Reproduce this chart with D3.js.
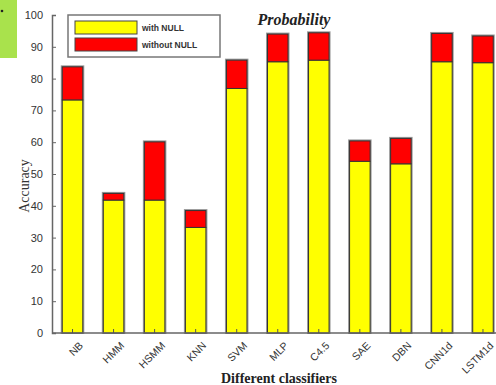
<!DOCTYPE html>
<html>
<head>
<meta charset="utf-8">
<script src="https://cdn.jsdelivr.net/npm/d3@7"></script>
<style>
  body { margin: 0; background: #fff; }
  svg { display: block; }
</style>
</head>
<body>
<svg id="chart" width="496" height="385"></svg>
<script>
"use strict";

// classifiers on the x axis
var classifiers = ["NB", "HMM", "HSMM", "KNN", "SVM", "MLP", "C4.5", "SAE", "DBN", "CNN1d", "LSTM1d"];
// accuracy (%) with NULL class
var withNull = [73.3, 41.8, 41.8, 33.2, 76.9, 85.3, 85.8, 54.0, 53.2, 85.3, 85.0];
// accuracy (%) without NULL class (top of red part)
var withoutNull = [83.7, 43.9, 60.1, 38.5, 85.8, 94.0, 94.4, 60.4, 61.2, 94.2, 93.4];
var yTicks = [0, 10, 20, 30, 40, 50, 60, 70, 80, 90, 100];
var legendLabels = ["with NULL", "without NULL"];
var colors = ["#ffff00", "#ff0000"];

var svg = d3.select("#chart");

var x = d3.scaleBand()
    .domain(classifiers)
    .range([52, 503.5])
    .paddingInner(0.5)
    .paddingOuter(0.25);

var y = d3.scaleLinear()
    .domain([0, 100])
    .range([333, 15]);

// green corner block
svg.append("rect")
    .attr("x", 0).attr("y", 0)
    .attr("width", 17).attr("height", 58)
    .attr("fill", "#a9e24c");
svg.append("circle")
    .attr("cx", 2).attr("cy", 11).attr("r", 1.3)
    .attr("fill", "#222");

// bars
var rows = classifiers.map(function (c, i) {
    return { name: c, lo: withNull[i], hi: withoutNull[i] };
});

var bars = svg.append("g");

// soft shadow around bars
bars.selectAll(".shadow")
    .data(rows)
    .enter().append("rect")
    .attr("x", function (d) { return x(d.name) - 0.5; })
    .attr("y", function (d) { return y(d.hi) - 0.5; })
    .attr("width", x.bandwidth() + 1)
    .attr("height", function (d) { return y(0) - y(d.hi) + 0.5; })
    .attr("fill", "none")
    .attr("stroke", "#999")
    .attr("stroke-width", 2);

bars.selectAll(".yellow")
    .data(rows)
    .enter().append("rect")
    .attr("x", function (d) { return x(d.name); })
    .attr("y", function (d) { return y(d.lo); })
    .attr("width", x.bandwidth())
    .attr("height", function (d) { return y(0) - y(d.lo); })
    .attr("fill", colors[0])
    .attr("stroke", "#333")
    .attr("stroke-width", 1);

bars.selectAll(".red")
    .data(rows)
    .enter().append("rect")
    .attr("x", function (d) { return x(d.name); })
    .attr("y", function (d) { return y(d.hi); })
    .attr("width", x.bandwidth())
    .attr("height", function (d) { return y(d.lo) - y(d.hi); })
    .attr("fill", colors[1])
    .attr("stroke", "#333")
    .attr("stroke-width", 1);

// y axis
var yAxis = svg.append("g")
    .attr("transform", "translate(52,0)")
    .call(d3.axisLeft(y).tickValues(yTicks).tickSize(-4).tickPadding(9));
yAxis.select(".domain").attr("stroke", "#666").attr("stroke-width", 1.5);
yAxis.selectAll(".tick line").attr("stroke", "#666");
yAxis.selectAll("text")
    .attr("font-family", "Liberation Sans, Arial, sans-serif")
    .attr("font-size", 11)
    .attr("fill", "#333");

// x axis
var xAxis = svg.append("g")
    .attr("transform", "translate(0,333)")
    .call(d3.axisBottom(x).tickSize(-4).tickSizeOuter(0).tickPadding(8));
xAxis.select(".domain")
    .attr("d", "M52,0H496")
    .attr("stroke", "#666")
    .attr("stroke-width", 1.5);
xAxis.selectAll(".tick line").attr("stroke", "#555");
xAxis.selectAll("text")
    .attr("font-family", "Liberation Sans, Arial, sans-serif")
    .attr("font-size", 10.5)
    .attr("fill", "#333")
    .attr("text-anchor", "end")
    .attr("dy", "0.35em")
    .attr("transform", "translate(3,5) rotate(-45)");

// legend
var legend = svg.append("g");
legend.append("rect")
    .attr("x", 68).attr("y", 15)
    .attr("width", 152).attr("height", 42)
    .attr("fill", "#fff")
    .attr("stroke", "#777")
    .attr("stroke-width", 1.5);
legend.selectAll(".swatch")
    .data(legendLabels)
    .enter().append("rect")
    .attr("x", 75)
    .attr("y", function (d, i) { return 21 + i * 17; })
    .attr("width", 62).attr("height", 13)
    .attr("fill", function (d, i) { return colors[i]; })
    .attr("stroke", "#444")
    .attr("stroke-width", 1);
legend.selectAll(".label")
    .data(legendLabels)
    .enter().append("text")
    .attr("x", 142)
    .attr("y", function (d, i) { return 31 + i * 17; })
    .attr("font-family", "Liberation Sans, Arial, sans-serif")
    .attr("font-size", 8.5)
    .attr("font-weight", "bold")
    .attr("fill", "#333")
    .text(function (d) { return d; });

// title and axis labels
svg.append("text")
    .attr("x", 294).attr("y", 25)
    .attr("text-anchor", "middle")
    .attr("font-family", "Liberation Serif, Times New Roman, serif")
    .attr("font-size", 16)
    .attr("font-weight", "bold")
    .attr("font-style", "italic")
    .attr("fill", "#222")
    .text("Probability");

svg.append("text")
    .attr("x", 279).attr("y", 383)
    .attr("text-anchor", "middle")
    .attr("font-family", "Liberation Serif, Times New Roman, serif")
    .attr("font-size", 14)
    .attr("font-weight", "bold")
    .attr("fill", "#222")
    .text("Different classifiers");

svg.append("text")
    .attr("transform", "translate(29,186) rotate(-90)")
    .attr("text-anchor", "middle")
    .attr("font-family", "Liberation Serif, Times New Roman, serif")
    .attr("font-size", 14)
    .attr("fill", "#333")
    .text("Accuracy");
</script>
</body>
</html>
